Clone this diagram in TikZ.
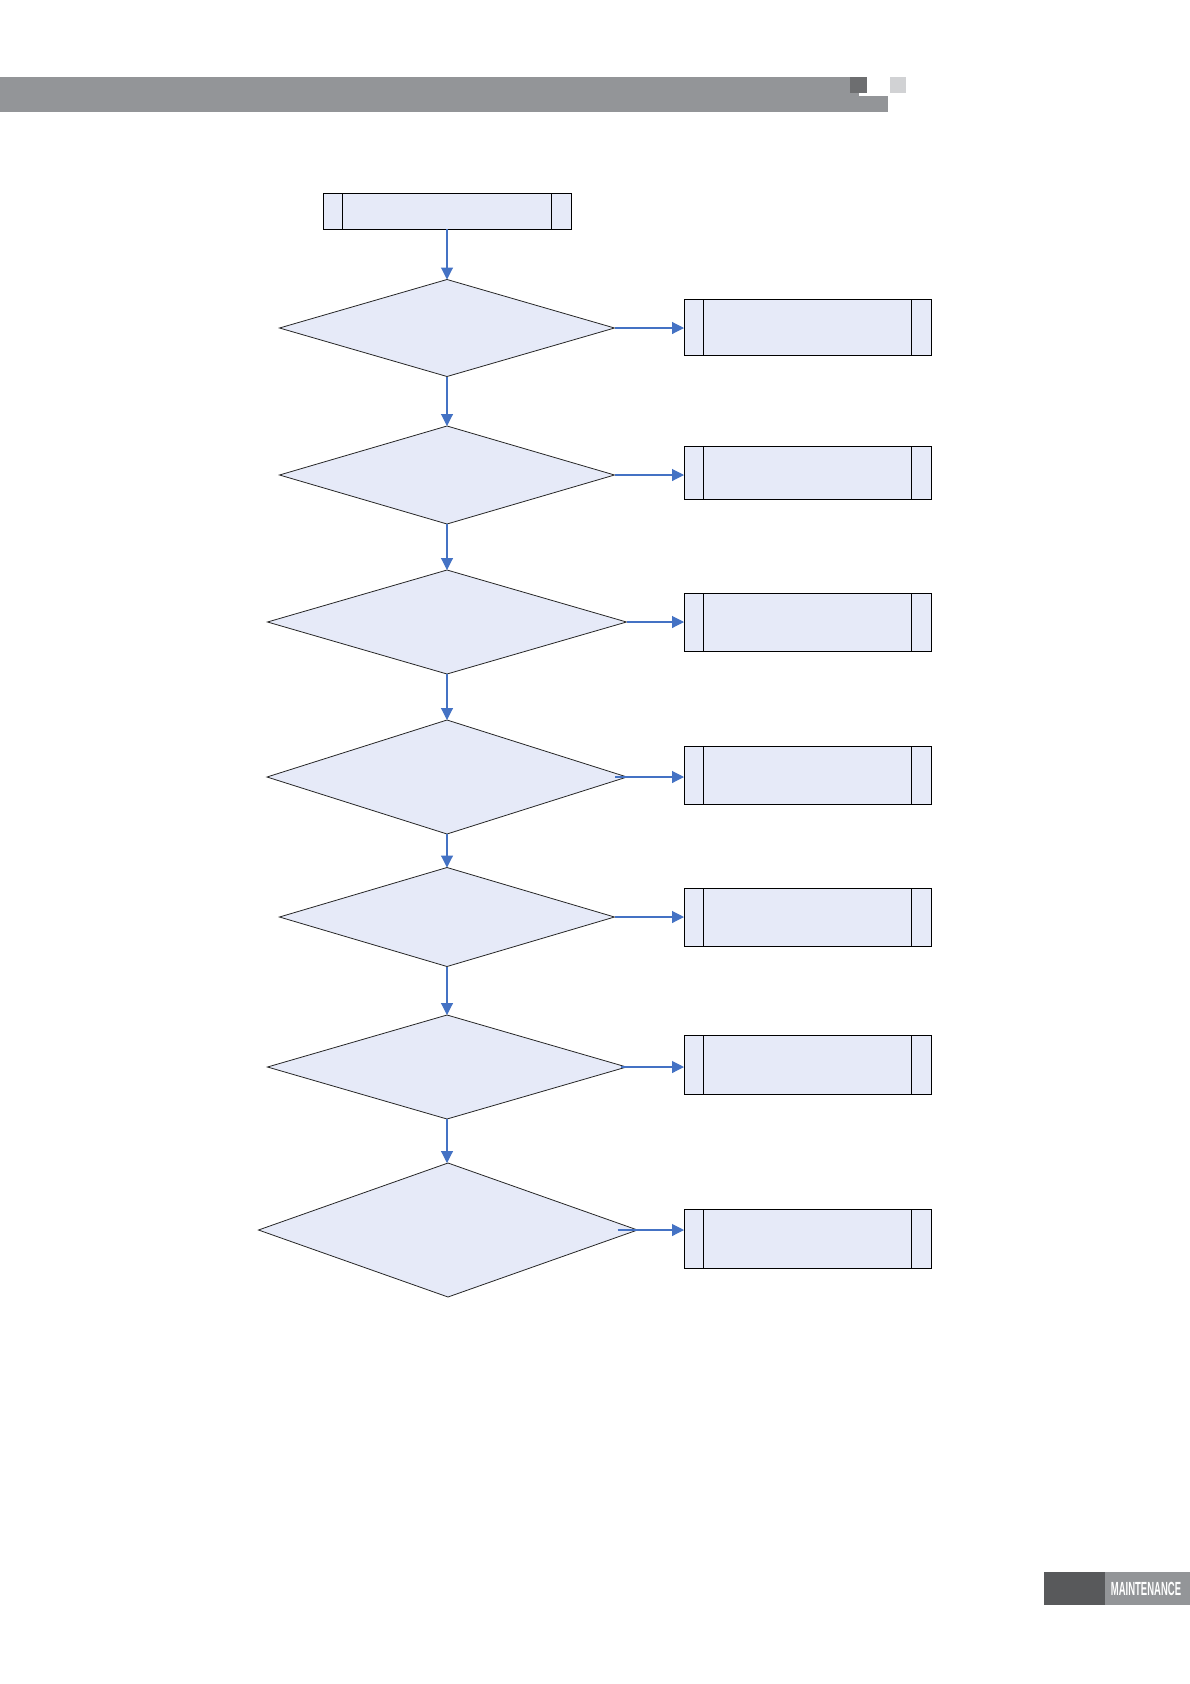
\documentclass[tikz,border=0pt]{standalone}
\usepackage{fontspec}
\newfontfamily\tabfont[FakeStretch=0.5]{Liberation Sans}
\usetikzlibrary{arrows.meta,shapes.geometric}

\definecolor{boxfill}{RGB}{230,234,248}
\definecolor{flowblue}{RGB}{68,114,196}
\definecolor{bargray}{RGB}{147,149,152}
\definecolor{bardark}{RGB}{109,110,112}
\definecolor{barlight}{RGB}{209,210,212}
\definecolor{tabdark}{RGB}{88,89,91}

\begin{document}
\begin{tikzpicture}[
  x=1pt,
  y=-1pt,
  proc/.style={draw, line width=1pt, fill=boxfill, inner sep=0pt, outer sep=0pt, minimum width=247pt, minimum height=56pt},
  decision/.style={diamond, draw=black!85, line width=0.8pt, fill=boxfill, inner sep=0pt, outer sep=0pt},
  flow/.style={draw=flowblue, line width=1.1pt, -{Triangle[length=12pt,width=12pt]}}
]
  \useasboundingbox (0,0) rectangle (1190,1684);

  % header bar
  \fill[bargray] (0,77) rectangle (859,112);
  \fill[bargray] (859,96) rectangle (888,112);
  \fill[bardark] (850,77) rectangle (867,93);
  \fill[barlight] (890,77) rectangle (906,93);

  % footer tab
  \fill[tabdark] (1044,1572) rectangle (1105,1605);
  \fill[bargray] (1105,1572) rectangle (1190,1605);
  \node[text=white, font=\tabfont\bfseries\fontsize{19}{19}\selectfont, inner sep=0pt] (tab) at (1146,1589) {MAINTENANCE};

  % flow
  \node[proc, minimum width=248pt, minimum height=36pt] (top) at (447,211) {};

  \node[decision, minimum width=335pt, minimum height=97pt] (d1) at (447,328) {};
  \node[decision, minimum width=335pt, minimum height=98pt] (d2) at (447,475) {};
  \node[decision, minimum width=359pt, minimum height=104pt] (d3) at (447,622) {};
  \node[decision, minimum width=360pt, minimum height=114pt] (d4) at (447,777) {};
  \node[decision, minimum width=335pt, minimum height=99pt] (d5) at (447,917) {};
  \node[decision, minimum width=359pt, minimum height=104pt] (d6) at (447,1067) {};
  \node[decision, minimum width=379pt, minimum height=134pt] (d7) at (448,1230) {};

  \node[proc] (b1) at (807.5,327) {};
  \node[proc, minimum height=53pt] (b2) at (807.5,472.5) {};
  \node[proc, minimum height=58pt] (b3) at (807.5,622) {};
  \node[proc, minimum height=58pt] (b4) at (807.5,775) {};
  \node[proc, minimum height=58pt] (b5) at (807.5,917) {};
  \node[proc, minimum height=59pt] (b6) at (807.5,1064.5) {};
  \node[proc, minimum height=59pt] (b7) at (807.5,1238.5) {};

  \foreach \b in {top,b1,b2,b3,b4,b5,b6,b7} {
    \draw[line width=1pt] ([xshift=19.5pt]\b.north west) -- ([xshift=19.5pt]\b.south west);
    \draw[line width=1pt] ([xshift=-19.5pt]\b.north east) -- ([xshift=-19.5pt]\b.south east);
  }

  \draw[flow] (top.south) -- (d1.north);
  \draw[flow] (d1.south) -- (d2.north);
  \draw[flow] (d2.south) -- (d3.north);
  \draw[flow] (d3.south) -- (d4.north);
  \draw[flow] (d4.south) -- (d5.north);
  \draw[flow] (d5.south) -- (d6.north);
  \draw[flow] (d6.south) -- (d6.south |- d7.north);

  \draw[flow] (d1.east) -- (d1.east -| b1.west);
  \draw[flow] (d2.east) -- (d2.east -| b2.west);
  \draw[flow] (d3.east) -- (d3.east -| b3.west);
  \draw[flow] ([xshift=-12pt]d4.east) -- (d4.east -| b4.west);
  \draw[flow] (d5.east) -- (d5.east -| b5.west);
  \draw[flow] ([xshift=-6pt]d6.east) -- (d6.east -| b6.west);
  \draw[flow] ([xshift=-20pt]d7.east) -- (d7.east -| b7.west);
\end{tikzpicture}
\end{document}
